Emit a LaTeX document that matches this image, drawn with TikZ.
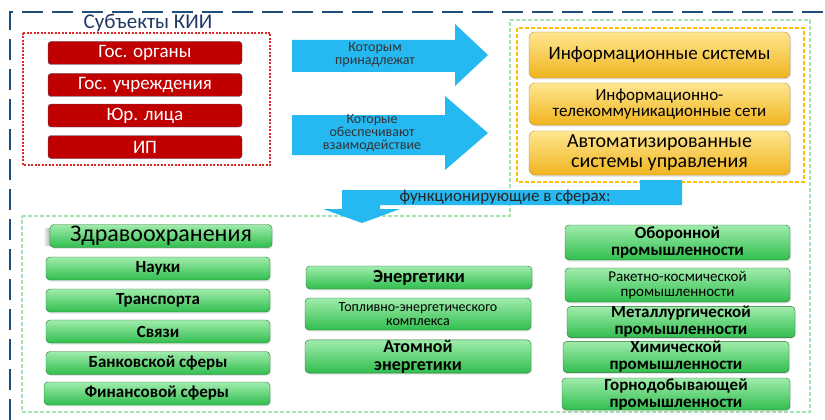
\documentclass[tikz,border=0pt]{standalone}
\usepackage{fontspec}
\setmainfont{Carlito}
\usepackage{xcolor}
\usepackage{tikz}
\usetikzlibrary{shadows}
\definecolor{frameblue}{RGB}{31, 78, 121}
\definecolor{titleblue}{RGB}{32, 56, 100}
\definecolor{subjred}{RGB}{192, 0, 0}
\definecolor{subjedge}{RGB}{70, 95, 130}
\definecolor{dotred}{RGB}{224, 40, 40}
\definecolor{arrowblue}{RGB}{38, 184, 240}
\definecolor{sysorange}{RGB}{255, 192, 0}
\definecolor{systop}{RGB}{255, 230, 145}
\definecolor{sysbot}{RGB}{240, 180, 30}
\definecolor{sysedge}{RGB}{190, 145, 50}
\definecolor{areagreen}{RGB}{165, 226, 180}
\definecolor{sectop}{RGB}{160, 236, 172}
\definecolor{secbot}{RGB}{48, 190, 78}
\definecolor{secedge}{RGB}{35, 115, 50}
\newcommand{\setsz}[2]{\fontsize{#1}{#2}\selectfont}

\begin{document}
\begin{tikzpicture}[x=1pt, y=-1pt,
    subject/.style={draw=subjedge, fill=subjred, rounded corners=3pt, text=white,
      minimum width=194pt, minimum height=23pt, inner sep=0pt, font=\setsz{19}{20}},
    system/.style={draw=sysedge, top color=systop, bottom color=sysbot,
      rounded corners=6pt, minimum width=261pt, inner sep=0pt, align=center,
      drop shadow={opacity=0.25, shadow xshift=1pt, shadow yshift=-1.5pt}},
    sector/.style={draw=secedge, top color=sectop, bottom color=secbot,
      rounded corners=4pt, inner sep=0pt, align=center, font=\bfseries\setsz{17}{17},
      drop shadow={opacity=0.2, shadow xshift=1pt, shadow yshift=-1.5pt}},
    arrowtext/.style={align=center, text=black!80, font=\setsz{14}{13}}]

  \useasboundingbox (0,0) rectangle (825,420);

  % ── Frames ────────────────────────────────────────────────────────────────
  \draw[frameblue, line width=2.5pt, dash pattern=on 21pt off 9pt]
    (10,420) -- (10,12) -- (825,12);
  \draw[areagreen, line width=1.2pt, dash pattern=on 4pt off 2pt]
    (22,216) -- (510,216) -- (510,20) -- (810,20) -- (810,412) -- (22,412) -- cycle;
  \draw[dotred, line width=1.2pt, dash pattern=on 2pt off 1.5pt]
    (23,33) rectangle (270,165);
  \draw[sysorange, line width=1.5pt, dash pattern=on 4pt off 2pt]
    (517,28) rectangle (804,182);

  % ── Subjects ──────────────────────────────────────────────────────────────
  \node[font=\setsz{21}{22}, text=titleblue, anchor=base] (title) at (148,29)
    {Субъекты КИИ};
  \node[subject] (gosorg) at (145,53)   {Гос. органы};
  \node[subject] (gosucr) at (145,85)   {Гос. учреждения};
  \node[subject] (jurlic) at (145,115.5) {Юр. лица};
  \node[subject] (ip)     at (145,147)  {ИП};

  % ── Block arrows ──────────────────────────────────────────────────────────
  \fill[arrowblue] (292,40) -- (455,40) -- (455,24) -- (488,55)
    -- (455,86) -- (455,72) -- (292,72) -- cycle;
  \node[arrowtext] (own) at (375,54.5) {Которым\\принадлежат};

  \fill[arrowblue] (292,115) -- (445,115) -- (445,96) -- (488,133)
    -- (445,170) -- (445,155) -- (292,155) -- cycle;
  \node[arrowtext] (interact) at (372,133) {Которые\\обеспечивают\\взаимодействие};

  % ── Systems ───────────────────────────────────────────────────────────────
  \node[system, minimum height=46pt, font=\setsz{19}{20}] (infsys) at (659.5,55)
    {Информационные системы};
  \node[system, minimum height=42pt, font=\setsz{17}{16}] (telnet) at (659.5,104)
    {Информационно-\\телекоммуникационные сети};
  \node[system, minimum height=44pt, font=\setsz{20}{20}] (acs) at (659.5,153)
    {Автоматизированные\\системы управления};

  % ── Bent arrow to the spheres ─────────────────────────────────────────────
  \fill[arrowblue] (682,180) -- (682,205) -- (380,205) -- (380,209) -- (400,209)
    -- (362,223) -- (323,209) -- (342,209) -- (342,190) -- (640,190)
    -- (640,180) -- cycle;
  \node[font=\setsz{17}{18}, text=black!85] (spheres) at (505,197)
    {функционирующие в сферах:};

  % ── Spheres: left column ──────────────────────────────────────────────────
  \shade[left color=white, right color=black!35] (43,228) rectangle (51,245);
  \node[sector, minimum width=222pt, minimum height=23pt,
        font=\setsz{24}{24}] (health) at (161,236) {Здравоохранения};
  \node[sector, minimum width=224pt, minimum height=23pt] (science) at (158,268.5) {Науки};
  \node[sector, minimum width=224pt, minimum height=23pt] (transp)  at (158,300.5) {Транспорта};
  \node[sector, minimum width=224pt, minimum height=23pt] (comm)    at (158,331.5) {Связи};
  \node[sector, minimum width=224pt, minimum height=23pt] (bank)    at (158,363)   {Банковской сферы};
  \node[sector, minimum width=226pt, minimum height=23pt] (finance) at (157,393.5) {Финансовой сферы};

  % ── Spheres: middle column ────────────────────────────────────────────────
  \node[sector, minimum width=226pt, minimum height=23pt,
        font=\bfseries\setsz{18.5}{19}] (energy) at (419,277.5) {Энергетики};
  \node[sector, minimum width=226pt, minimum height=32pt,
        font=\setsz{14}{14}] (fuel) at (418,314) {Топливно-энергетического\\комплекса};
  \node[sector, minimum width=226pt, minimum height=33pt,
        font=\bfseries\setsz{18}{18}] (atom) at (418,356.5) {Атомной\\энергетики};

  % ── Spheres: right column ─────────────────────────────────────────────────
  \node[sector, minimum width=225pt, minimum height=35pt] (defence) at (677.5,242.5)
    {Оборонной\\промышленности};
  \node[sector, minimum width=225pt, minimum height=34pt,
        font=\setsz{15}{15}] (rocket) at (677.5,285) {Ракетно-космической\\промышленности};
  \node[sector, minimum width=228pt, minimum height=30pt] (metal) at (681,322)
    {Металлургической\\промышленности};
  \node[sector, minimum width=226pt, minimum height=30pt] (chem) at (676,357)
    {Химической\\промышленности};
  \node[sector, minimum width=228pt, minimum height=32pt] (mining) at (676,394)
    {Горнодобывающей\\промышленности};

\end{tikzpicture}
\end{document}
